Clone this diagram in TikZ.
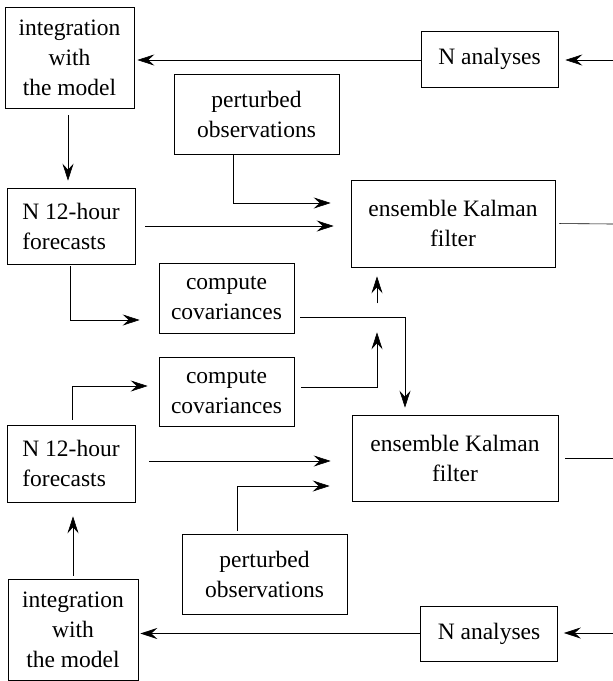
\documentclass[tikz,border=0pt]{standalone}
\usepackage{fontspec}
\setmainfont{Liberation Serif}
\usetikzlibrary{arrows.meta,calc}
\begin{document}
\begin{tikzpicture}[x=1pt,y=-1pt,
  box/.style={draw,line width=0.6pt,inner sep=0pt,align=center,
    font=\fontsize{23.5}{30}\selectfont},
  arr/.style={line width=0.6pt,-{Stealth[length=17pt,width=11pt,inset=6pt]}},
  ln/.style={line width=0.6pt}]
\useasboundingbox (0,0) rectangle (613,681);
% top half
\node[box,minimum width=129pt,minimum height=101pt] (integ1) at (69.5,57.5) {integration\\with\\the model};
\node[box,minimum width=137pt,minimum height=56pt] (na1) at (489.5,59) {N analyses};
\node[box,minimum width=165pt,minimum height=80pt] (pert1) at (256.5,114) {perturbed\\observations};
\node[box,minimum width=128pt,minimum height=76pt,align=left] (fc1) at (71,226) {N 12-hour\\forecasts};
\node[box,minimum width=204pt,minimum height=87pt] (enkf1) at (453,223.5) {ensemble Kalman\\filter};
\node[box,minimum width=135pt,minimum height=70pt] (cov1) at (226.5,298) {compute\\covariances};
% bottom half
\node[box,minimum width=135pt,minimum height=69pt] (cov2) at (226.5,391.5) {compute\\covariances};
\node[box,minimum width=128pt,minimum height=77pt,align=left] (fc2) at (71,463.5) {N 12-hour\\forecasts};
\node[box,minimum width=206pt,minimum height=86pt] (enkf2) at (455,458) {ensemble Kalman\\filter};
\node[box,minimum width=165pt,minimum height=80pt] (pert2) at (264.5,574) {perturbed\\observations};
\node[box,minimum width=130pt,minimum height=101pt] (integ2) at (73,629.5) {integration\\with\\the model};
\node[box,minimum width=137pt,minimum height=55pt] (na2) at (489,633.5) {N analyses};
% free ends
\coordinate (in1) at (613,60);
\coordinate (in2) at (613,633);
\coordinate (out1) at (613,224);
\coordinate (out2) at (613,458);
% connectors top
\draw[arr,shorten >=7pt] (in1) -- (in1 -| na1.east);
\draw[arr,shorten >=3pt] ([yshift=-1pt]na1.west) -- ([yshift=-1pt]na1.west -| integ1.east);
\draw[arr,shorten <=7pt,shorten >=7pt] ([xshift=-1.5pt]integ1.south) -- ([xshift=-1.5pt]integ1.south |- fc1.north);
\draw[arr,shorten >=20pt] ([xshift=-23.5pt]pert1.south) |- ([yshift=20.5pt]enkf1.west);
\draw[arr,shorten <=10pt,shorten >=17pt] (fc1.east) -- (fc1.east -| enkf1.west);
\draw[ln,shorten <=4pt] (enkf1.east) -- (out1);
\draw[arr,shorten <=2pt,shorten >=19pt] ([xshift=-1pt]fc1.south) |- ([yshift=-22pt]cov1.west);
\draw[arr,shorten <=6pt,shorten >=7pt] ([yshift=-19pt]cov1.east) -| ([xshift=-50pt]enkf2.north);
\draw[arr,shorten <=7pt] ([yshift=4.5pt]cov2.east) -| ([xshift=-76pt,yshift=-65pt]enkf1.south);
\draw[arr,shorten >=9pt] ([xshift=-76pt,yshift=-36pt]enkf1.south) -- ([xshift=-76pt]enkf1.south);
% connectors bottom
\draw[arr,shorten <=5pt,shorten >=11pt] ([xshift=1pt]fc2.north) |- ([yshift=5.5pt]cov2.west);
\draw[arr,shorten <=14pt,shorten >=21pt] ([yshift=2.5pt]fc2.east) -- ([yshift=2.5pt]fc2.east -| enkf2.west);
\draw[arr,shorten <=3pt,shorten >=22pt] ([xshift=-27.5pt]pert2.north) |- ([yshift=-28pt]enkf2.west);
\draw[ln,shorten <=7pt] (enkf2.east) -- (out2);
\draw[arr,shorten <=3pt,shorten >=14pt] (integ2.north) -- (integ2.north |- fc2.south);
\draw[arr,shorten >=2pt] (na2.west) -- (na2.west -| integ2.east);
\draw[arr,shorten >=6pt] (in2) -- (in2 -| na2.east);
\end{tikzpicture}
\end{document}
